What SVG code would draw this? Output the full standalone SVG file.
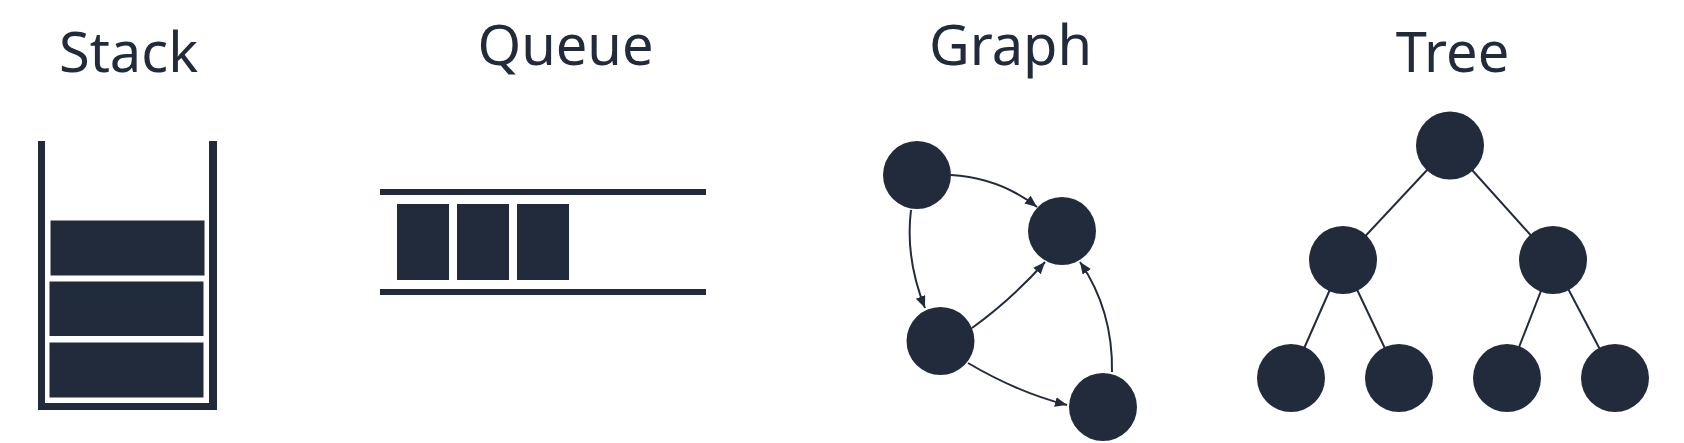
<svg xmlns="http://www.w3.org/2000/svg" width="1684" height="443" viewBox="0 0 1684 443">
<style>
.t{font-family:"Noto Sans","Open Sans","Liberation Sans",sans-serif;font-size:56px;fill:#222b3c;text-anchor:middle;text-rendering:geometricPrecision}
.f{fill:#222b3c}
.e{fill:none;stroke:#222b3c;stroke-width:2}
</style>
<defs>
<marker id="ah" markerUnits="userSpaceOnUse" markerWidth="13" markerHeight="11" refX="12" refY="5" orient="auto">
<path d="M0,0 L12,5 L0,10 z" fill="#222b3c"/>
</marker>
</defs>
<rect width="1684" height="443" fill="#ffffff"/>
<g id="stack">
<text class="t" x="128.5" y="72">Stack</text>
<path class="f" d="M38,141 H45 V403 H209 V141 H217 V410 H38 Z"/>
<rect class="f" x="50.5" y="220.5" width="154" height="55"/>
<rect class="f" x="49.5" y="281.5" width="154" height="54.5"/>
<rect class="f" x="49.5" y="342.5" width="154" height="55"/>
</g>
<g id="queue">
<text class="t" x="565.5" y="65">Queue</text>
<rect class="f" x="380" y="189" width="326" height="6"/>
<rect class="f" x="380" y="289" width="326" height="6"/>
<rect class="f" x="397" y="204" width="52" height="76"/>
<rect class="f" x="457" y="204" width="52" height="76"/>
<rect class="f" x="517" y="204" width="52" height="76"/>
</g>
<g id="graph">
<text class="t" x="1010.5" y="65">Graph</text>
</g>
<g id="connectors">
<path class="e" d="M951,175 Q1000,178 1037,207" marker-end="url(#ah)"/>
<path class="e" d="M911,210 Q905,258 925,308" marker-end="url(#ah)"/>
<path class="e" d="M972,328 Q1012,299 1045,262" marker-end="url(#ah)"/>
<path class="e" d="M968,363 Q1017,392 1067,405" marker-end="url(#ah)"/>
<path class="e" d="M1112,372 Q1113,310 1080,262" marker-end="url(#ah)"/>
<line class="e" x1="1450" y1="145.5" x2="1343" y2="260"/>
<line class="e" x1="1450" y1="145.5" x2="1553" y2="260"/>
<line class="e" x1="1343" y1="260" x2="1291" y2="378"/>
<line class="e" x1="1343" y1="260" x2="1399" y2="378"/>
<line class="e" x1="1553" y1="260" x2="1507" y2="378"/>
<line class="e" x1="1553" y1="260" x2="1615" y2="378"/>
</g>
<g id="g-a"><circle class="f" cx="917" cy="175" r="34"/></g>
<g id="g-b"><circle class="f" cx="1062" cy="231" r="34"/></g>
<g id="g-c"><circle class="f" cx="940.5" cy="341" r="34"/></g>
<g id="g-d"><circle class="f" cx="1103" cy="407" r="34"/></g>
<g id="tree">
<text class="t" x="1452.5" y="72">Tree</text>
</g>
<g id="t-root"><circle class="f" cx="1450" cy="145.5" r="34"/></g>
<g id="t-l"><circle class="f" cx="1343" cy="260" r="34"/></g>
<g id="t-r"><circle class="f" cx="1553" cy="260" r="34"/></g>
<g id="t-ll"><circle class="f" cx="1291" cy="378" r="34"/></g>
<g id="t-lr"><circle class="f" cx="1399" cy="378" r="34"/></g>
<g id="t-rl"><circle class="f" cx="1507" cy="378" r="34"/></g>
<g id="t-rr"><circle class="f" cx="1615" cy="378" r="34"/></g>
</svg>
